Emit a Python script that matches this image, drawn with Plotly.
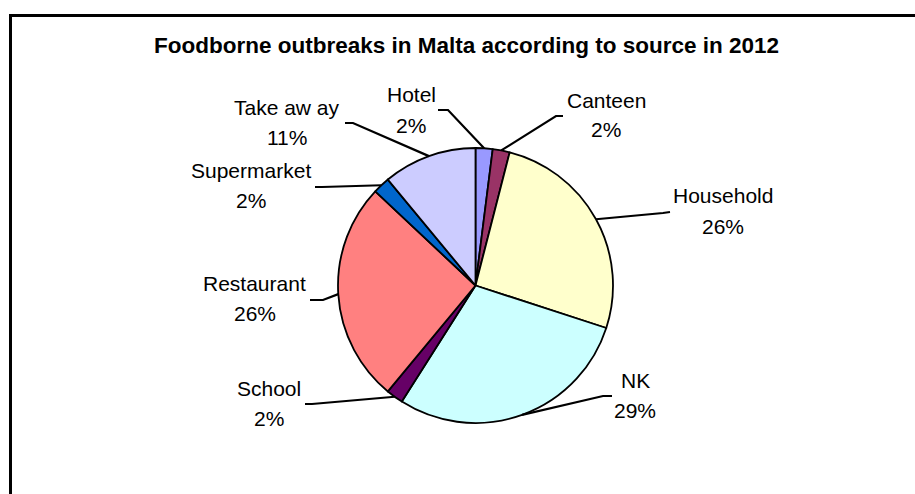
import math
import plotly.graph_objects as go

# ---- data ----
sources = ["Hotel", "Canteen", "Household", "NK", "School", "Restaurant", "Supermarket", "Take aw ay"]
shares = [2, 2, 26, 29, 2, 26, 2, 11]
colors = ["#9999FF", "#993366", "#FFFFCC", "#CCFFFF", "#660066", "#FF8080", "#0066CC", "#CCCCFF"]
title_text = "Foodborne outbreaks in Malta according to source in 2012"

# ---- layout (pixels) ----
W, H = 915, 494
CX, CY, R = 475.5, 285.5, 137.5
# label block centre and leader line end / elbow (pixels)
label_pos = [(411, 110), (606, 115), (723, 211), (635, 395), (269, 403), (255, 298), (251, 185), (287, 122)]
leader_end = [(438, 110), (563, 116), (670, 212), (612, 396), (305, 404), (310, 300), (315, 187), (345, 123)]
leader_elbow = [(448, 110), (556, 116), (663, 213), (603, 396), (312, 404), (323, 300), (322, 187), (353, 123)]

def px(x):
    return x / W

def py(y):
    return 1 - y / H

fig = go.Figure(go.Pie(
    labels=sources,
    values=shares,
    sort=False,
    direction="clockwise",
    rotation=0,
    textinfo="none",
    hoverinfo="label+percent",
    marker=dict(colors=colors, line=dict(color="black", width=1.8)),
    domain=dict(x=[px(CX - R), px(CX + R)], y=[py(CY + R), py(CY - R)]),
    showlegend=False,
))

total = sum(shares)
annotations = []
shapes = []
cum = 0
for i, (name, v) in enumerate(zip(sources, shares)):
    mid = (cum + v / 2) / total * 2 * math.pi
    cum += v
    ex = CX + R * math.sin(mid)
    ey = CY - R * math.cos(mid)
    tx, ty = label_pos[i]
    pct = f"{round(v / total * 100)}%"
    annotations.append(dict(x=px(tx), y=py(ty - 15), xref="paper", yref="paper", text=name,
                            showarrow=False, xanchor="center", yanchor="middle",
                            font=dict(family="Arial, Liberation Sans", size=21, color="black")))
    annotations.append(dict(x=px(tx), y=py(ty + 15), xref="paper", yref="paper", text=pct,
                            showarrow=False, xanchor="center", yanchor="middle",
                            font=dict(family="Arial, Liberation Sans", size=21, color="black")))
    (lx, ly), (bx, by) = leader_end[i], leader_elbow[i]
    shapes.append(dict(type="path", xref="paper", yref="paper",
                       path=f"M {px(lx)},{py(ly)} L {px(bx)},{py(by)} L {px(ex)},{py(ey)}",
                       line=dict(color="black", width=2.2)))

annotations.append(dict(x=px(466.5), y=py(46), xref="paper", yref="paper", text=f"<b>{title_text}</b>",
                        showarrow=False, xanchor="center", yanchor="middle",
                        font=dict(family="Arial, Liberation Sans", size=22.5, color="black")))

# chart area border (extends past right/bottom edges)
shapes.append(dict(type="rect", xref="paper", yref="paper",
                   x0=px(10.5), x1=px(W + 20), y0=py(H + 20), y1=py(15.5),
                   line=dict(color="black", width=3), fillcolor="rgba(0,0,0,0)", layer="below"))

fig.update_layout(
    width=W, height=H,
    margin=dict(l=0, r=0, t=0, b=0),
    paper_bgcolor="white",
    plot_bgcolor="white",
    annotations=annotations,
    shapes=shapes,
)

fig.write_html("out.html", config={"displayModeBar": False})
